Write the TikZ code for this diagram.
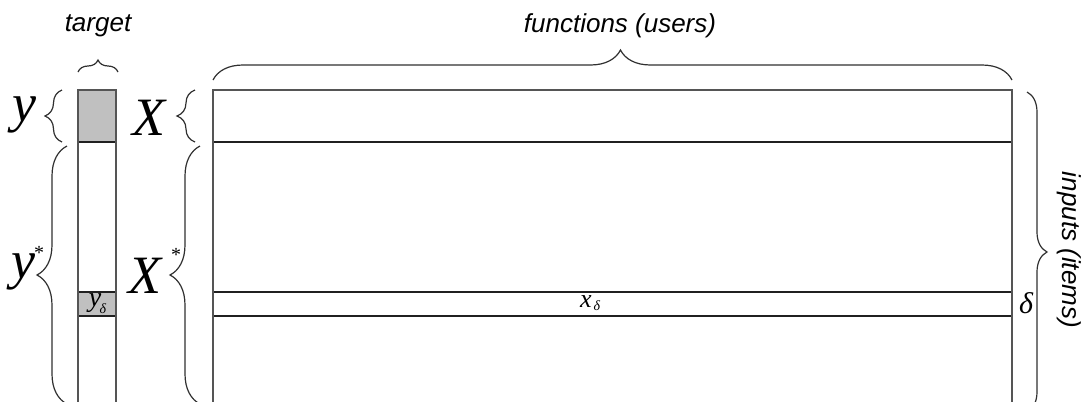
\documentclass[tikz,border=0pt]{standalone}
\usepackage{fontspec}
\setmainfont{Liberation Serif}
\setsansfont{Liberation Sans}
\usetikzlibrary{decorations.pathreplacing}
\definecolor{framegray}{HTML}{555555}
\definecolor{linegray}{HTML}{202020}
\definecolor{bracegray}{HTML}{303030}
\definecolor{cellfill}{HTML}{C0C0C0}
\tikzset{
  lbl/.style={font=\sffamily\itshape\fontsize{13}{15}\selectfont, inner sep=0pt},
  bigsym/.style={font=\itshape\fontsize{27}{30}\selectfont, inner sep=0pt},
  starsym/.style={font=\fontsize{10}{11}\selectfont, inner sep=0pt},
  cellsym/.style={font=\itshape\fontsize{14}{16}\selectfont, inner sep=0pt},
  subsym/.style={font=\itshape\fontsize{7}{8}\selectfont, inner sep=0pt},
  frame/.style={draw=framegray, line width=0.75pt},
  rowline/.style={draw=linegray, line width=0.55pt},
  brc/.style={decorate, decoration={brace, amplitude=#1}, draw=bracegray, line width=0.6pt},
}
\begin{document}
\begin{tikzpicture}[x=0.5pt, y=-0.5pt]
\useasboundingbox (0,0) rectangle (1084,402);
\clip (0,0) rectangle (1084,402);

% corner points of the target column and of the data matrix
\coordinate (T-nw) at (78,90);   \coordinate (T-ne) at (116,90);
\coordinate (T-sw) at (78,425);  \coordinate (T-se) at (116,425);
\coordinate (M-nw) at (213,90);  \coordinate (M-ne) at (1012,90);
\coordinate (M-sw) at (213,425); \coordinate (M-se) at (1012,425);

% shaded cells of the target column
\fill[cellfill] (78,90) rectangle (116,142);
\fill[cellfill] (78,292) rectangle (116,316);
\draw[rowline] (78,142) -- (116,142);
\draw[rowline] (78,292) -- (116,292);
\draw[rowline] (78,316) -- (116,316);
\draw[frame] (T-sw) -- (T-nw) -- (T-ne) -- (T-se);

% data matrix with its split and the highlighted row
\draw[rowline] (213,142) -- (1012,142);
\draw[rowline] (213,292) -- (1012,292);
\draw[rowline] (213,316) -- (1012,316);
\draw[frame] (M-sw) -- (M-nw) -- (M-ne) -- (M-se);

% labels inside the cells
\node[cellsym] (yd) at (95,303) {y};
\node[subsym] (ydsub) at (103,309) {δ};
\node[cellsym, font=\itshape\fontsize{13}{15}\selectfont] (xd) at (586,302) {x};
\node[subsym] (xdsub) at (597,306) {δ};
\node[cellsym, font=\itshape\fontsize{15}{17}\selectfont] (delta) at (1026,303) {δ};

% braces
\coordinate (bt1) at (78,72);    \coordinate (bt2) at (118,72);
\coordinate (bf1) at (213,80);   \coordinate (bf2) at (1012,80);
\coordinate (by1) at (62,142);   \coordinate (by2) at (62,90);
\coordinate (bys1) at (67,404);  \coordinate (bys2) at (67,146);
\coordinate (bx1) at (195,142);  \coordinate (bx2) at (195,90);
\coordinate (bxs1) at (200,404); \coordinate (bxs2) at (200,146);
\coordinate (br1) at (1027,92);  \coordinate (br2) at (1027,412);

\draw[brc=6pt] (bt1) -- (bt2);
\draw[decorate, decoration={brace, amplitude=15pt, aspect=0.51}, draw=bracegray, line width=0.6pt] (bf1) -- (bf2);
\draw[brc=8.5pt] (by1) -- (by2);
\draw[brc=15pt] (bys1) -- (bys2);
\draw[brc=9pt] (bx1) -- (bx2);
\draw[brc=15pt] (bxs1) -- (bxs2);
\draw[brc=10pt] (br1) -- (br2);

% brace labels
\node[lbl] (target) at (98,26) {target};
\node[lbl] (functions) at (620,26) {functions (users)};
\node[lbl, rotate=-90] (inputs) at (1069,250) {inputs (items)};

\node[bigsym] (y) at (24,115) {y};
\node[bigsym] (X) at (149,118) {X};
\node[bigsym] (ystar) at (23,272) {y};
\node[starsym] (ystarmark) at (39,253) {*};
\node[bigsym] (Xstar) at (145,276) {X};
\node[starsym] (Xstarmark) at (176,255) {*};
\end{tikzpicture}
\end{document}
